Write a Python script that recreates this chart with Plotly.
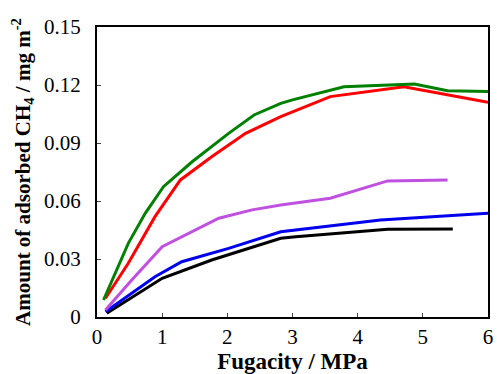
import plotly.graph_objects as go

green_x = [0.1, 0.48, 0.74, 1.02, 1.46, 2.02, 2.41, 2.82, 3.0, 3.79, 4.87, 5.38, 6.0]
green_y = [0.0088, 0.0381, 0.0536, 0.0674, 0.0803, 0.095, 0.1045, 0.1105, 0.1123, 0.1191, 0.1205, 0.117, 0.1166]

red_x = [0.13, 0.48, 0.89, 1.28, 1.76, 2.28, 2.82, 3.58, 4.71, 5.38, 6.0]
red_y = [0.0097, 0.0278, 0.0519, 0.0709, 0.0829, 0.095, 0.1036, 0.114, 0.1191, 0.1148, 0.111]

purple_x = [0.13, 0.53, 1.0, 1.87, 2.38, 2.82, 3.58, 4.46, 5.38]
purple_y = [0.0036, 0.019, 0.0364, 0.0511, 0.0554, 0.0579, 0.0614, 0.0704, 0.0709]

blue_x = [0.13, 0.89, 1.3, 2.02, 2.82, 3.05, 4.35, 6.0]
blue_y = [0.0027, 0.0208, 0.0286, 0.0355, 0.0441, 0.045, 0.0502, 0.0536]

black_x = [0.15, 1.0, 1.76, 2.43, 2.82, 3.05, 4.46, 5.46]
black_y = [0.0019, 0.020, 0.0295, 0.0364, 0.0407, 0.0415, 0.0454, 0.0455]

series = [
    (black_x, black_y, "black"),
    (blue_x, blue_y, "#0000ee"),
    (purple_x, purple_y, "#c050e0"),
    (red_x, red_y, "#ff0000"),
    (green_x, green_y, "#008000"),
]

fig = go.Figure()
for xs, ys, c in series:
    fig.add_trace(go.Scatter(x=xs, y=ys, mode="lines", line=dict(color=c, width=3), showlegend=False))

font = "Liberation Serif, Times New Roman, serif"
fig.update_layout(
    width=497, height=374,
    margin=dict(l=97, r=9, t=27, b=57),
    paper_bgcolor="white", plot_bgcolor="white",
    font=dict(family=font, color="black"),
)
fig.update_xaxes(
    range=[0, 6], tickvals=[0, 1, 2, 3, 4, 5, 6], ticks="inside", ticklen=4,
    showline=True, linecolor="black", linewidth=2, mirror=True, showgrid=False, zeroline=False,
    tickfont=dict(size=21, family=font), automargin=False,
    title=dict(text="<b>Fugacity / MPa</b>", font=dict(size=23, family=font), standoff=6),
)
fig.update_yaxes(
    range=[0, 0.15], tickvals=[0, 0.03, 0.06, 0.09, 0.12, 0.15],
    ticktext=["0", "0.03", "0.06", "0.09", "0.12", "0.15"],
    ticks="inside", ticklen=4, ticklabelstandoff=10,
    showline=True, linecolor="black", linewidth=2, mirror=True, showgrid=False, zeroline=False,
    tickfont=dict(size=21, family=font), automargin=False,
    title=dict(text="<b>Amount of adsorbed CH<sub>4</sub> / mg m<sup>-2</sup></b>", font=dict(size=21, family=font), standoff=8),
)
fig.write_html(
    "out.html",
    config={"displayModeBar": False},
    post_script="document.body.style.margin='0';document.body.style.padding='0';document.body.style.overflow='hidden';",
)
